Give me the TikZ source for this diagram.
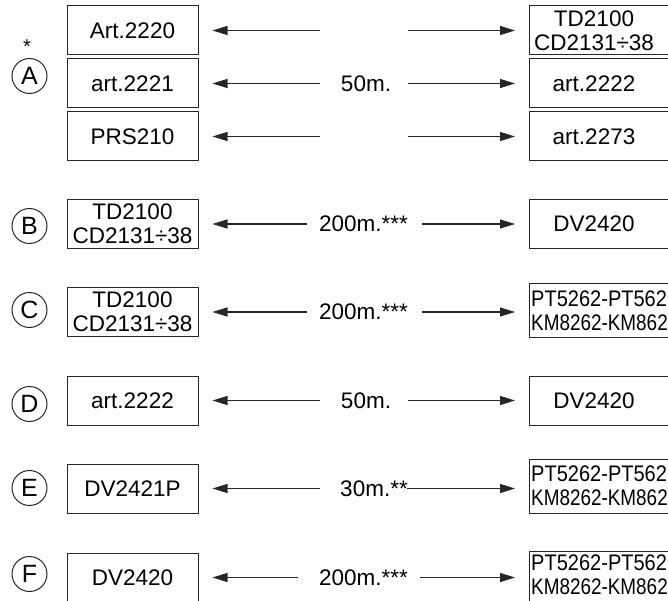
\documentclass[tikz,border=0pt]{standalone}
\usepackage{fontspec}
\setmainfont{Liberation Sans}
\usepackage{graphicx}
\usetikzlibrary{arrows.meta}
\begin{document}
\begin{tikzpicture}[x=1pt,y=-1pt,
  box/.style={draw=black!85, line width=1pt, minimum width=131pt, minimum height=49pt, inner sep=0pt, align=center, font=\fontsize{22.5}{24}\selectfont},
  rbox/.style={draw=black!85, line width=1pt, minimum width=170pt, minimum height=49pt, inner sep=0pt, anchor=west},
  pbox/.style={rbox, minimum height=54pt},
  txt/.style={inner sep=0pt, align=center, font=\fontsize{22.5}{24}\selectfont},
  ptxt/.style={inner sep=0pt, align=left, anchor=west, font=\fontsize{22.5}{24}\selectfont},
  circ/.style={draw=black!85, line width=1pt, circle, minimum size=35pt, inner sep=0pt, font=\fontsize{25}{25}\selectfont},
  arr/.style={draw=black!85, line width=1.1pt, -{Triangle[length=15pt,width=9pt]}, shorten >=14pt},
  lbl/.style={inner sep=0pt, font=\fontsize{22.5}{24}\selectfont}
]
\useasboundingbox (0,0) rectangle (668,601);
\clip (0,0) rectangle (668,601);

% ---- circles
\node[inner sep=0pt, font=\fontsize{20}{20}\selectfont] (star) at (27,47) {*};
\node[circ] (cA) at (29.5,76) {A};
\node[circ] (cB) at (29.5,226) {B};
\node[circ] (cC) at (29.5,310) {C};
\node[circ] (cD) at (29.5,404) {D};
\node[circ] (cE) at (29.5,488) {E};
\node[circ] (cF) at (29.5,574) {F};

% ---- row A
\node[box] (a1L) at (132.5,30.5) {Art.2220};
\node[box] (a2L) at (132.5,83.5) {art.2221};
\node[box] (a3L) at (132.5,136.5) {PRS210};
\node[rbox] (a1R) at (529,30.5) {};
\node[rbox] (a2R) at (529,83.5) {};
\node[rbox] (a3R) at (529,136.5) {};
\node[txt] (a1T) at (594,30.5) {TD2100\\CD2131÷38};
\node[txt] (a2T) at (594,83.5) {art.2222};
\node[txt] (a3T) at (594,136.5) {art.2273};
\node[lbl] (a2M) at (366,83.5) {50m.};
\coordinate (a1l) at (320,30.5);  \coordinate (a1r) at (408,30.5);
\coordinate (a2l) at (320,83.5);  \coordinate (a2r) at (408,83.5);
\coordinate (a3l) at (320,136.5); \coordinate (a3r) at (408,136.5);
\draw[arr] (a1l) -- (a1L.east);
\draw[arr] (a1r) -- (a1R.west);
\draw[arr] (a2l) -- (a2L.east);
\draw[arr] (a2r) -- (a2R.west);
\draw[arr] (a3l) -- (a3L.east);
\draw[arr] (a3r) -- (a3R.west);

% ---- row B
\node[box] (bL) at (132.5,224) {TD2100\\CD2131÷38};
\node[rbox] (bR) at (529,224) {};
\node[txt] (bT) at (594,224) {DV2420};
\node[lbl] (bM) at (363.5,224) {200m.***};
\coordinate (bl) at (307,224); \coordinate (br) at (422,224);
\draw[arr] (bl) -- (bL.east);
\draw[arr] (br) -- (bR.west);

% ---- row C
\node[box] (cL) at (132.5,312) {TD2100\\CD2131÷38};
\node[pbox] (cR) at (529,310) {};
\node[ptxt] (cT) at (531,311) {\scalebox{0.89}[1]{PT5262-PT562}\\\scalebox{0.84}[1]{KM8262-KM862}};
\node[lbl] (cM) at (363.5,312) {200m.***};
\coordinate (cl) at (307,312); \coordinate (cr) at (422,312);
\draw[arr] (cl) -- (cL.east);
\draw[arr] (cr) -- (cR.west |- cl);

% ---- row D
\node[box] (dL) at (132.5,400.5) {art.2222};
\node[rbox] (dR) at (529,400.5) {};
\node[txt] (dT) at (594,400.5) {DV2420};
\node[lbl] (dM) at (366,400.5) {50m.};
\coordinate (dl) at (320,400.5); \coordinate (dr) at (408,400.5);
\draw[arr] (dl) -- (dL.east);
\draw[arr] (dr) -- (dR.west);

% ---- row E
\node[box] (eL) at (132.5,488.5) {DV2421P};
\node[pbox] (eR) at (529,486) {};
\node[ptxt] (eT) at (531,486) {\scalebox{0.89}[1]{PT5262-PT562}\\\scalebox{0.84}[1]{KM8262-KM862}};
\node[lbl] (eM) at (374,488.5) {30m.**};
\coordinate (el) at (320,488.5); \coordinate (er) at (407,488.5);
\draw[arr] (el) -- (eL.east);
\draw[arr] (er) -- (eR.west |- el);

% ---- row F
\node[box] (fL) at (132.5,577.5) {DV2420};
\node[pbox] (fR) at (529,578) {};
\node[ptxt] (fT) at (531,575) {\scalebox{0.89}[1]{PT5262-PT562}\\\scalebox{0.84}[1]{KM8262-KM862}};
\node[lbl] (fM) at (363.5,577.5) {200m.***};
\coordinate (fl) at (298,577.5); \coordinate (fr) at (420,577.5);
\draw[arr] (fl) -- (fL.east);
\draw[arr] (fr) -- (fR.west |- fl);
\end{tikzpicture}
\end{document}
